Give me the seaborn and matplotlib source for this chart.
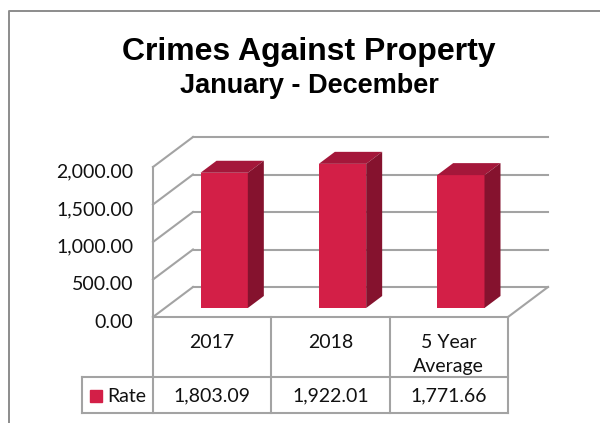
import matplotlib
matplotlib.use('Agg')
import matplotlib.pyplot as plt
from matplotlib.patches import Polygon, Rectangle
from matplotlib.transforms import ScaledTranslation
import seaborn as sns

# Data
categories = ['2017', '2018', '5 Year\nAverage']
rate = [1803.09, 1922.01, 1771.66]
y_ticks = [0, 500, 1000, 1500, 2000]
series_name = 'Rate'

W, H = 600, 423
GRAY = '#a3a3a3'
RED = '#d31f47'
RED_TOP = '#a4173a'
RED_SIDE = '#85122e'
TEXT = '#111111'

sns.set_theme(style='white')
plt.rcParams['font.family'] = ['Lato', 'DejaVu Sans']


def px_axes(fig, left, top, right, bottom):
    return fig.add_axes([left / W, 1 - bottom / H, (right - left) / W, (bottom - top) / H])


fig = plt.figure(figsize=(W / 100, H / 100), dpi=100, facecolor='white')

# outer frame, open on the right and bottom
fig.add_artist(plt.Line2D([9 / W, 9 / W, 1], [0, 1 - 11 / H, 1 - 11 / H], color='#8c8c8c', lw=1.4))

# front frame of the 3d box, carries ticks, walls and table
ax = px_axes(fig, 153, 167, 508, 317)
ax.set_xlim(-0.5, 2.5)
ax.set_ylim(0, 2000)
ax.patch.set_alpha(0)
for s in ax.spines.values():
    s.set_visible(False)

px_x = 1 / 118.33
px_y = 2000 / 150
dx, dy = 40 * px_x, 30 * px_y
line = dict(color=GRAY, lw=1.5, clip_on=False, solid_capstyle='projecting')

for t in y_ticks:
    ax.plot([-0.5, -0.5 + dx], [t, t + dy], **line)
    ax.plot([-0.5 + dx, 2.5 + dx], [t + dy, t + dy], **line)
ax.plot([-0.5, -0.5], [0, 2000], **line)
ax.plot([-0.5, 2.5, 2.5 + dx], [0, 0, dy], **line)

ax.set_yticks(y_ticks)
ax.set_yticklabels([f'{t:,.2f}' for t in y_ticks], fontsize=14, color=TEXT)
ax.set_xticks(range(len(categories)))
ax.set_xticklabels(categories, fontsize=14, color=TEXT, linespacing=1.55)
ax.tick_params(axis='y', length=0, pad=14)
ax.tick_params(axis='x', length=0, pad=12)

# the y labels sit a little below their gridline
shift = ScaledTranslation(0, -3.5 / 100, fig.dpi_scale_trans)
for lab in ax.get_yticklabels():
    lab.set_transform(lab.get_transform() + shift)

# table under the axis
row_top = -60 * px_y
row_bot = -96 * px_y
key_left = -0.5 - 71 * px_x
for x in [-0.5, 0.5, 1.5, 2.5]:
    ax.plot([x, x], [0, row_bot], **line)
ax.plot([key_left, 2.5], [row_top, row_top], **line)
ax.plot([key_left, 2.5], [row_bot, row_bot], **line)
ax.plot([key_left, key_left], [row_top, row_bot], **line)
row_mid = (row_top + row_bot) / 2 - 1 * px_y
for i, v in enumerate(rate):
    ax.text(i, row_mid, f'{v:,.2f}', ha='center', va='center', fontsize=14, color=TEXT, clip_on=False)
ax.add_patch(Rectangle((-0.5 - 63 * px_x, row_mid - 6 * px_y), 12 * px_x, 12 * px_y, color=RED, clip_on=False))
ax.text(-0.5 - 46 * px_x, row_mid, series_name, ha='left', va='center', fontsize=14, color=TEXT, clip_on=False)

# bars sit 30% of the way into the box
ax_bars = px_axes(fig, 165, 158, 520, 308)
sns.barplot(x=categories, y=rate, color=RED, saturation=1, width=0.4, linewidth=0, ax=ax_bars)
ax_bars.set_xlim(-0.5, 2.5)
ax_bars.set_ylim(0, 2000)
ax_bars.axis('off')

ddx, ddy = 16 * px_x, 12 * px_y
for bar in list(ax_bars.patches):
    x0, x1 = bar.get_x(), bar.get_x() + bar.get_width()
    h = bar.get_height()
    ax_bars.add_patch(Polygon([(x0, h), (x1, h), (x1 + ddx, h + ddy), (x0 + ddx, h + ddy)],
                              color=RED_TOP, clip_on=False, lw=0))
    ax_bars.add_patch(Polygon([(x1, 0), (x1 + ddx, ddy), (x1 + ddx, h + ddy), (x1, h)],
                              color=RED_SIDE, clip_on=False, lw=0))

# titles
fig.text(309 / W, 1 - 52 / H, 'Crimes Against Property', ha='center', va='center',
         family='Liberation Sans', fontweight='bold', fontsize=23, color='black')
fig.text(309 / W, 1 - 86 / H, 'January - December', ha='center', va='center',
         family='Liberation Sans', fontweight='bold', fontsize=19.5, color='black')

fig.savefig('out.png', dpi=100, facecolor='white')
